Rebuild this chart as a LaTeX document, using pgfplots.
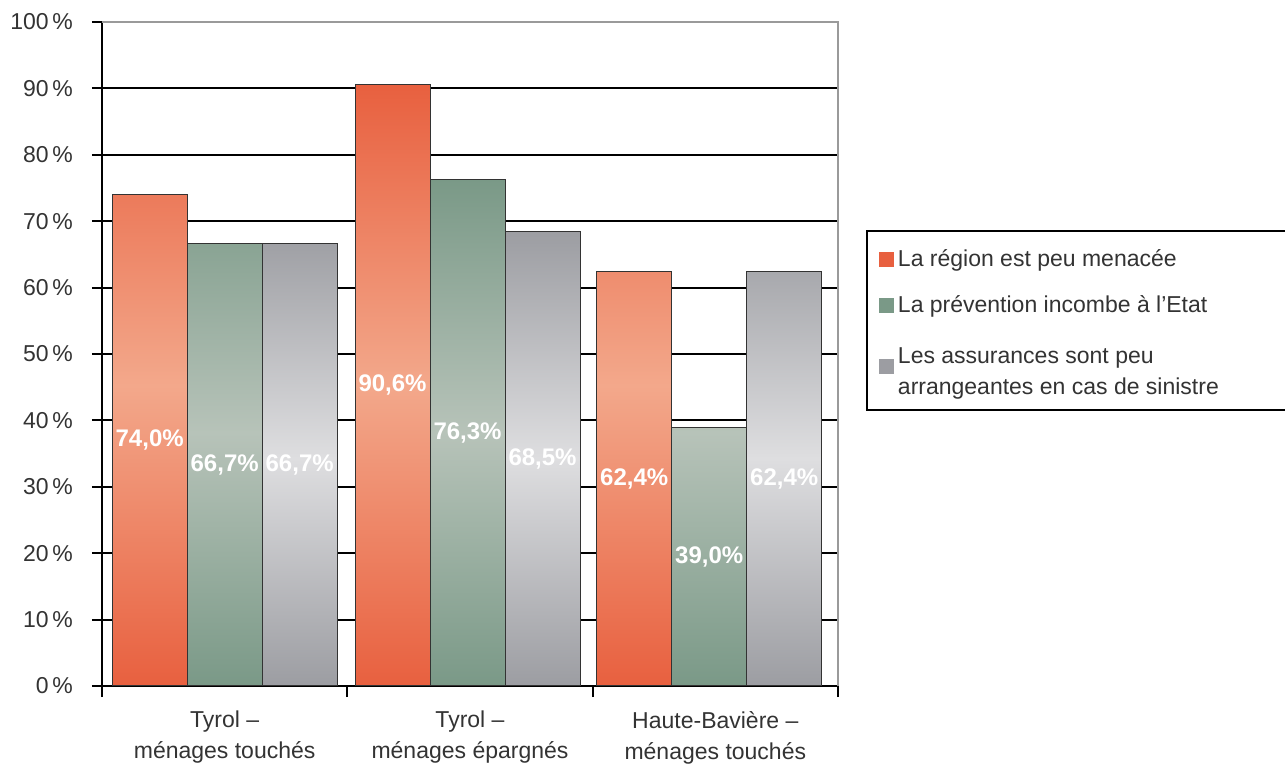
\documentclass[border=0pt]{standalone}
\usepackage{pgfplots}
\pgfplotsset{compat=1.18}
\usepackage{fontspec}
\setmainfont{Liberation Sans}
\definecolor{redT}{HTML}{E8603F}
\definecolor{redM}{HTML}{F3A88B}
\definecolor{greenT}{HTML}{7A9987}
\definecolor{greenM}{HTML}{B7C3B9}
\definecolor{grayT}{HTML}{9C9DA2}
\definecolor{grayM}{HTML}{DEDEE0}
\definecolor{txt}{HTML}{333333}
\definecolor{frame}{HTML}{9A9A9A}
\newcommand{\f}{\fontsize{11.5}{15.5}\selectfont}
\newcommand{\legsq}[1]{\pgfsetfillcolor{#1}\pgfpathrectangle{\pgfpoint{0pt}{-3.75pt}}{\pgfpoint{7.5pt}{7.5pt}}\pgfusepath{fill}}
\begin{document}
\begin{tikzpicture}
\begin{axis}[
  name=ax,
  scale only axis, width=368pt, height=332pt,
  xmin=-0.5, xmax=2.5, ymin=0, ymax=100,
  ybar=0pt, bar width=37.5pt,
  axis x line*=bottom, axis y line*=left,
  axis line style={black, line width=1pt, -},
  ytick={0,10,...,100},
  yticklabels={0\,\%,10\,\%,20\,\%,30\,\%,40\,\%,50\,\%,60\,\%,70\,\%,80\,\%,90\,\%,100\,\%},
  tick align=outside, major tick length=5pt,
  ytick style={black, line width=1pt},
  ymajorgrids, major grid style={black, line width=1pt},
  xtick={0,1,2},
  xticklabels={{Tyrol –\\ménages touchés},{Tyrol –\\ménages épargnés},{Haute-Bavière –\\ménages touchés}},
  xticklabel style={align=center, text=txt, font=\f, yshift=-4pt},
  xtick style={draw=none},
  extra x ticks={-0.5,0.5,1.5,2.5},
  extra x tick labels={},
  extra x tick style={xtick style={draw=black, line width=1pt}, major tick length=5.5pt, grid=none},
  yticklabel style={text=txt, font=\f, xshift=-6pt},
  nodes near coords={\pgfmathprintnumber[fixed, fixed zerofill, precision=1, use comma, assume math mode=true]{\pgfplotspointmeta}\%},
  nodes near coords align={anchor=center},
  every node near coord/.append style={anchor=center, text=white, font=\bfseries\fontsize{12}{14}\selectfont, shift={(axis direction cs:0,-\half)}},
  visualization depends on={rawy/2 \as \half},
  legend style={at={(rel axis cs:1.038,0.6867)}, anchor=north west, draw=black, line width=1pt, font=\f, text=txt, row sep=9pt, inner xsep=6pt, inner ysep=7.5pt},
  legend cell align=left,
]
\addplot[draw=black!80, line width=0.5pt, top color=redT, bottom color=redT, middle color=redM,
  legend image code/.code={\legsq{redT}}]
  coordinates {(0,74.0) (0.99,90.6) (1.975,62.4)};
\addlegendentry{La région est peu menacée}
\addplot[draw=black!80, line width=0.5pt, top color=greenT, bottom color=greenT, middle color=greenM,
  legend image code/.code={\legsq{greenT}}]
  coordinates {(0,66.7) (0.99,76.3) (1.975,39.0)};
\addlegendentry{La prévention incombe à l’Etat}
\addplot[draw=black!80, line width=0.5pt, top color=grayT, bottom color=grayT, middle color=grayM,
  legend image code/.code={\legsq{grayT}}]
  coordinates {(0,66.7) (0.99,68.5) (1.975,62.4)};
\addlegendentry[text depth=13.5pt]{\begin{tabular}[t]{@{}l@{}}Les assurances sont peu\\arrangeantes en cas de sinistre\hspace*{40pt}\end{tabular}}
\end{axis}
\draw[frame, line width=1pt] (ax.north west) -- (ax.north east) -- (ax.south east);
\pgfresetboundingbox
\path ([shift={(-51pt,-39.5pt)}]ax.south west) rectangle ([shift={(591.5pt,343pt)}]ax.south west);
\end{tikzpicture}
\end{document}
